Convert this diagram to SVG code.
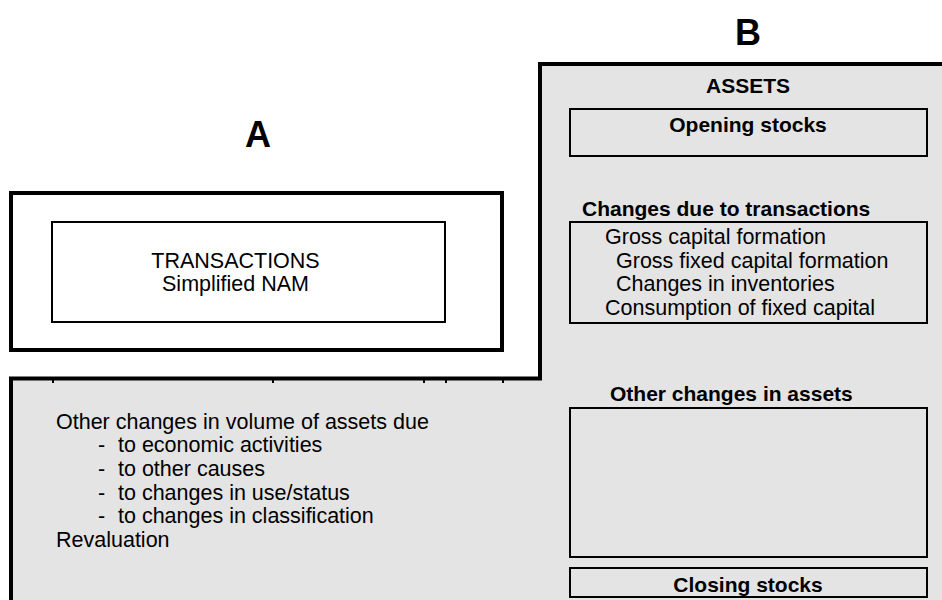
<svg xmlns="http://www.w3.org/2000/svg" width="942" height="600" viewBox="0 0 942 600">
<style>
text{font-family:"Liberation Sans",Arial,sans-serif;fill:#000}
.r{font-size:21.5px}
.b{font-size:21px;font-weight:bold}
.big{font-size:36px;font-weight:bold}
.c{text-anchor:middle}
.thick{fill:none;stroke:#000;stroke-width:4}
.thin{fill:none;stroke:#000;stroke-width:2}
</style>
<rect width="942" height="600" fill="#fff"/>
<g id="region-B-shape">
<polygon points="540,64 952,64 952,612 11,612 11,378.5 540,378.5" fill="#e4e4e4" stroke="#000" stroke-width="4"/>
<g fill="#000">
<rect x="52" y="380" width="2" height="3"/>
<rect x="272" y="380" width="2" height="3"/>
<rect x="423" y="380" width="2" height="3"/>
<rect x="445" y="380" width="2" height="3"/>
<rect x="502" y="380" width="2" height="3"/>
</g>
</g>
<g id="label-A"><text class="big c" x="258" y="147">A</text></g>
<g id="label-B"><text class="big c" x="748" y="45">B</text></g>
<g id="box-A">
<rect class="thick" x="11" y="193" width="491" height="157" fill="#fff"/>
</g>
<g id="transactions">
<rect class="thin" x="52" y="222" width="393" height="100" fill="#fff"/>
<text class="r c" x="235.5" y="268">TRANSACTIONS</text>
<text class="r c" x="235.5" y="291">Simplified NAM</text>
</g>
<g id="assets-title"><text class="b c" x="748" y="93">ASSETS</text></g>
<g id="opening-stocks">
<rect class="thin" x="570" y="109" width="357" height="47"/>
<text class="b c" x="748" y="132">Opening stocks</text>
</g>
<g id="changes-transactions">
<text class="b" x="582" y="216">Changes due to transactions</text>
<rect class="thin" x="570" y="222" width="357" height="101"/>
<text class="r" x="605" y="244">Gross capital formation</text>
<text class="r" x="616" y="268">Gross fixed capital formation</text>
<text class="r" x="616" y="291">Changes in inventories</text>
<text class="r" x="605" y="315">Consumption of fixed capital</text>
</g>
<g id="other-changes-left">
<text class="r" x="56" y="429">Other changes in volume of assets due</text>
<text class="r" x="98" y="452">-</text><text class="r" x="118" y="452">to economic activities</text>
<text class="r" x="98" y="476">-</text><text class="r" x="118" y="476">to other causes</text>
<text class="r" x="98" y="500">-</text><text class="r" x="118" y="500">to changes in use/status</text>
<text class="r" x="98" y="523">-</text><text class="r" x="118" y="523">to changes in classification</text>
<text class="r" x="56" y="547">Revaluation</text>
</g>
<g id="other-changes-assets">
<text class="b" x="610" y="401">Other changes in assets</text>
<rect class="thin" x="570" y="408" width="357" height="149"/>
</g>
<g id="closing-stocks">
<rect class="thin" x="570" y="568" width="357" height="29"/>
<text class="b c" x="748" y="592">Closing stocks</text>
</g>
<g id="connectors"/>
</svg>
